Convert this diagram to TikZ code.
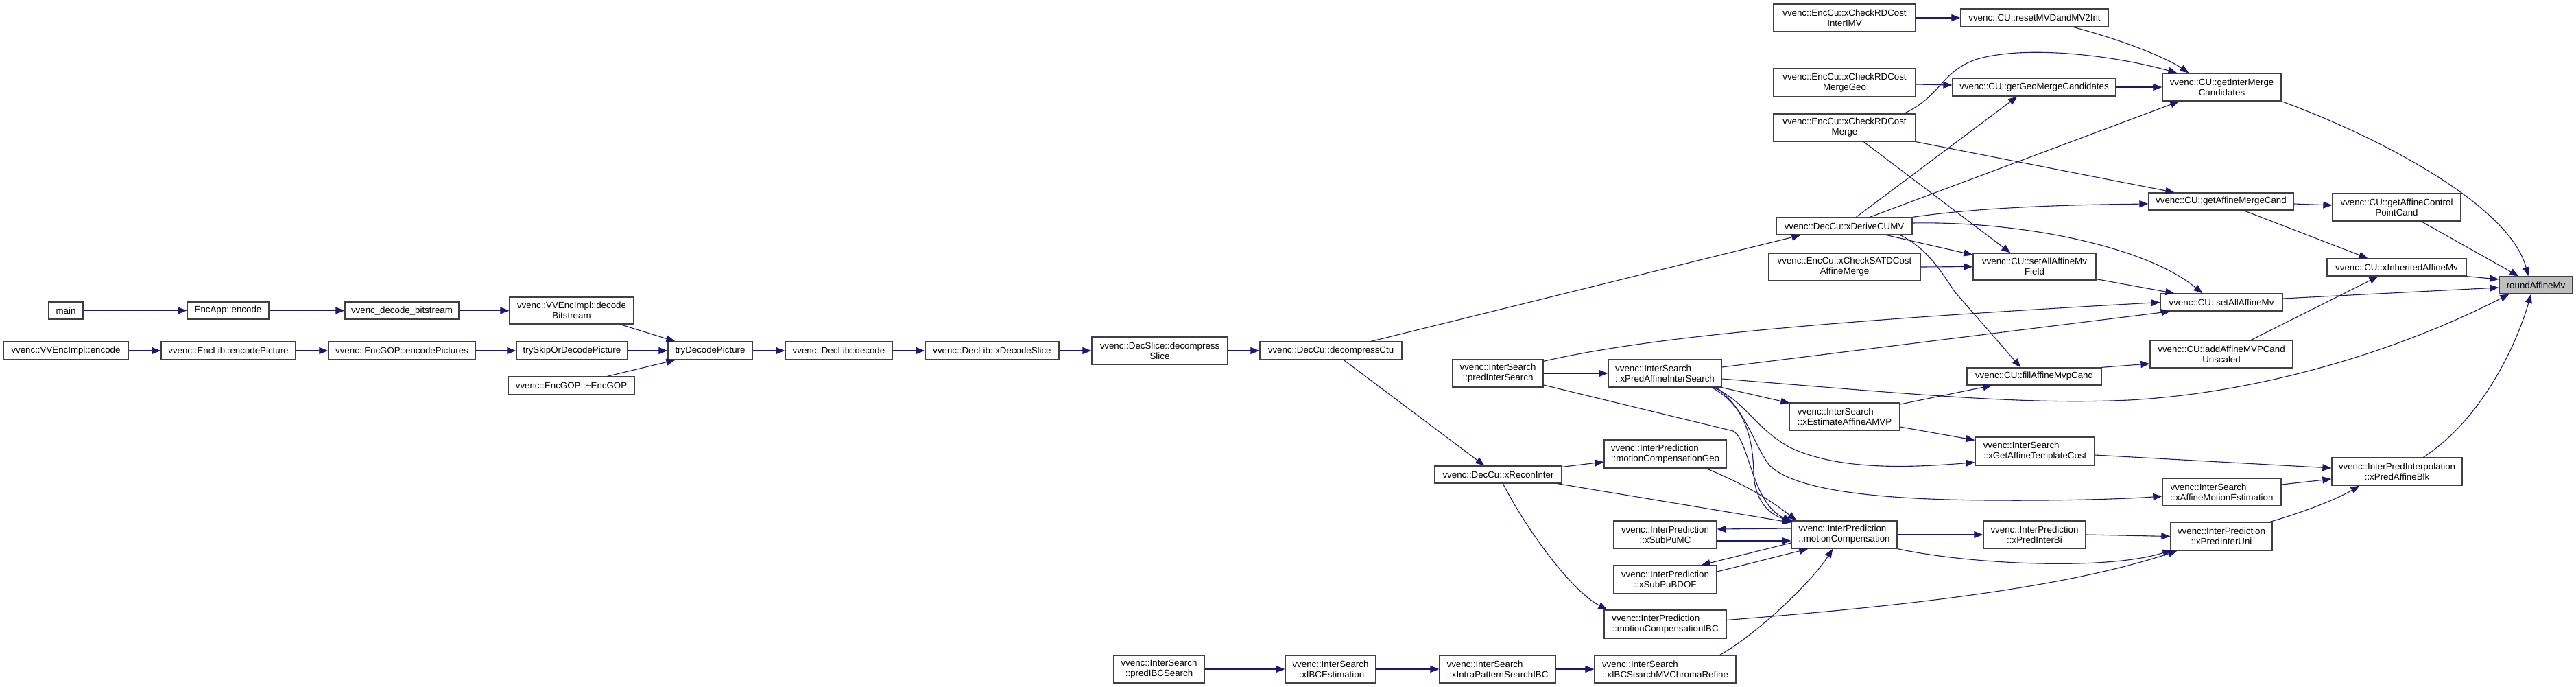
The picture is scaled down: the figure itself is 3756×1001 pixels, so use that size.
\documentclass[tikz,border=0pt]{standalone}
\usepackage{fontspec}
\setmainfont{Liberation Sans}
\usetikzlibrary{arrows.meta,calc}
\definecolor{edgeblue}{HTML}{191970}
\definecolor{boxline}{HTML}{404040}
\definecolor{rootfill}{HTML}{BFBFBF}
\begin{document}
\begin{tikzpicture}[x=1pt,y=-1pt,
  box/.style={draw=boxline, line width=1.3pt, fill=white, inner sep=0pt,
    font=\fontsize{13.3}{15}\selectfont, align=center},
  lbox/.style={box, align=left},
  edge/.style={draw=edgeblue, line width=1.1pt, -{Triangle[length=13pt,width=10pt]}},
]
\fill[white] (0,0) rectangle (3756,1001);
\useasboundingbox (0,0) rectangle (3756,1001);

% ---- left chains
\node[box, minimum width=50pt, minimum height=25pt] (main) at (96,452.5) {main};
\node[box, minimum width=119pt, minimum height=25pt] (encapp) at (332.5,452.5) {EncApp::encode};
\node[box, minimum width=166pt, minimum height=25pt] (vdb) at (586,452.5) {vvenc\_decode\_bitstream};
\node[box, minimum width=181pt, minimum height=39pt] (decbs) at (833.5,452.5) {vvenc::VVEncImpl::decode\\Bitstream};
\node[box, minimum width=182pt, minimum height=26pt] (vencenc) at (96,511) {vvenc::VVEncImpl::encode};
\node[box, minimum width=196pt, minimum height=26pt] (encpic) at (333,511) {vvenc::EncLib::encodePicture};
\node[box, minimum width=214pt, minimum height=26pt] (encpics) at (586,511) {vvenc::EncGOP::encodePictures};
\node[box, minimum width=162pt, minimum height=26pt] (tryskip) at (834,511) {trySkipOrDecodePicture};
\node[box, minimum width=184pt, minimum height=26pt] (encgopd) at (833,562) {vvenc::EncGOP::\textasciitilde EncGOP};
\node[box, minimum width=123pt, minimum height=26pt] (trydec) at (1035.5,511) {tryDecodePicture};
\node[box, minimum width=156pt, minimum height=26pt] (declibdec) at (1223,511) {vvenc::DecLib::decode};
\node[box, minimum width=195pt, minimum height=26pt] (xdecslice) at (1446.5,511) {vvenc::DecLib::xDecodeSlice};
\node[box, minimum width=198pt, minimum height=40pt] (decslice) at (1691,511) {vvenc::DecSlice::decompress\\Slice};
\node[box, minimum width=207pt, minimum height=26pt] (decctu) at (1940.5,511) {vvenc::DecCu::decompressCtu};

% ---- middle
\node[box, minimum width=132pt, minimum height=40pt] (predis) at (2184,544) {vvenc::InterSearch\\::predInterSearch};
\node[lbox, minimum width=165pt, minimum height=40pt] (xpais) at (2427.5,544) {vvenc::InterSearch\\::xPredAffineInterSearch};
\node[box, minimum width=185pt, minimum height=25pt] (recon) at (2184.5,691.5) {vvenc::DecCu::xReconInter};
\node[lbox, minimum width=178pt, minimum height=41pt] (mcgeo) at (2428,661.5) {vvenc::InterPrediction\\::motionCompensationGeo};
\node[box, minimum width=150pt, minimum height=40pt] (subpumc) at (2428,779) {vvenc::InterPrediction\\::xSubPuMC};
\node[box, minimum width=150pt, minimum height=41pt] (subpubdof) at (2428,844.5) {vvenc::InterPrediction\\::xSubPuBDOF};
\node[lbox, minimum width=178pt, minimum height=41pt] (mcibc) at (2428,909.5) {vvenc::InterPrediction\\::motionCompensationIBC};
\node[box, minimum width=132pt, minimum height=40pt] (predibc) at (1690,975) {vvenc::InterSearch\\::predIBCSearch};
\node[box, minimum width=132pt, minimum height=40pt] (ibcest) at (1940,975) {vvenc::InterSearch\\::xIBCEstimation};
\node[lbox, minimum width=169pt, minimum height=40pt] (intrapat) at (2183.5,975) {vvenc::InterSearch\\::xIntraPatternSearchIBC};
\node[lbox, minimum width=206pt, minimum height=40pt] (chroma) at (2428,975) {vvenc::InterSearch\\::xIBCSearchMVChromaRefine};
\node[lbox, minimum width=154pt, minimum height=40pt] (mc) at (2689,779) {vvenc::InterPrediction\\::motionCompensation};

% ---- EncCu column
\node[box, minimum width=207pt, minimum height=40pt] (imv) at (2689.5,26) {vvenc::EncCu::xCheckRDCost\\InterIMV};
\node[box, minimum width=207pt, minimum height=41pt] (mgeo) at (2689.5,120.5) {vvenc::EncCu::xCheckRDCost\\MergeGeo};
\node[box, minimum width=207pt, minimum height=40pt] (merge) at (2689.5,186) {vvenc::EncCu::xCheckRDCost\\Merge};
\node[box, minimum width=198pt, minimum height=25pt] (derive) at (2689,329.5) {vvenc::DecCu::xDeriveCUMV};
\node[box, minimum width=221pt, minimum height=40pt] (satd) at (2689.5,389) {vvenc::EncCu::xCheckSATDCost\\AffineMerge};
\node[lbox, minimum width=161pt, minimum height=40pt] (estamvp) at (2689.5,607) {vvenc::InterSearch\\::xEstimateAffineAMVP};

% ---- next column
\node[box, minimum width=215pt, minimum height=26pt] (reset) at (2966.5,26) {vvenc::CU::resetMVDandMV2Int};
\node[box, minimum width=238pt, minimum height=26pt] (geoc) at (2966,127) {vvenc::CU::getGeoMergeCandidates};
\node[box, minimum width=179pt, minimum height=39pt] (setfield) at (2966.5,388.5) {vvenc::CU::setAllAffineMv\\Field};
\node[box, minimum width=196pt, minimum height=25pt] (fillmvp) at (2966,548.5) {vvenc::CU::fillAffineMvpCand};
\node[lbox, minimum width=174pt, minimum height=41pt] (tmplcost) at (2967,657.5) {vvenc::InterSearch\\::xGetAffineTemplateCost};
\node[box, minimum width=149pt, minimum height=40pt] (interbi) at (2966.5,779) {vvenc::InterPrediction\\::xPredInterBi};

\node[box, minimum width=173pt, minimum height=40pt] (intermerge) at (3239.5,127) {vvenc::CU::getInterMerge\\Candidates};
\node[box, minimum width=211pt, minimum height=25pt] (affmerge) at (3238.5,293.5) {vvenc::CU::getAffineMergeCand};
\node[box, minimum width=178pt, minimum height=25pt] (setall) at (3239,440.5) {vvenc::CU::setAllAffineMv};
\node[box, minimum width=208pt, minimum height=40pt] (addmvp) at (3239,516) {vvenc::CU::addAffineMVPCand\\Unscaled};
\node[lbox, minimum width=173pt, minimum height=40pt] (affme) at (3239.5,717) {vvenc::InterSearch\\::xAffineMotionEstimation};
\node[box, minimum width=148pt, minimum height=41pt] (interuni) at (3239,781.5) {vvenc::InterPrediction\\::xPredInterUni};

\node[box, minimum width=187pt, minimum height=40pt] (cpcand) at (3494.5,302) {vvenc::CU::getAffineControl\\PointCand};
\node[box, minimum width=203pt, minimum height=25pt] (inherit) at (3494.5,389.5) {vvenc::CU::xInheritedAffineMv};
\node[box, minimum width=190pt, minimum height=40pt] (predblk) at (3495,687) {vvenc::InterPredInterpolation\\::xPredAffineBlk};
\node[box, fill=rootfill, minimum width=107pt, minimum height=25pt] (round) at (3697.5,415.5) {roundAffineMv};

% ---- edges: left chains
\draw[edge] (main.east) -- (encapp.west);
\draw[edge] (encapp.east) -- (vdb.west);
\draw[edge] (vdb.east) -- (decbs.west);
\draw[edge] ($(decbs.south west)+(162,0)$) -- ($(trydec.north west)+(11,0)$);
\draw[edge] (vencenc.east) -- (encpic.west);
\draw[edge] (encpic.east) -- (encpics.west);
\draw[edge] (encpics.east) -- (tryskip.west);
\draw[edge] (tryskip.east) -- (trydec.west);
\draw[edge] ($(encgopd.north west)+(145,0)$) -- ($(trydec.south west)+(11,0)$);
\draw[edge] (trydec.east) -- (declibdec.west);
\draw[edge] (declibdec.east) -- (xdecslice.west);
\draw[edge] (xdecslice.east) -- (decslice.west);
\draw[edge] (decslice.east) -- (decctu.west);
\draw[edge] ($(decctu.north west)+(163,0)$) -- ($(derive.south west)+(36,0)$);
\draw[edge] ($(decctu.south west)+(123,0)$) -- ($(recon.north west)+(73,0)$);

% ---- IBC chain
\draw[edge] (predibc.east) -- (ibcest.west);
\draw[edge] (ibcest.east) -- (intrapat.west);
\draw[edge] (intrapat.east) -- (chroma.west);

% ---- InterSearch
\draw[edge] (predis.east) -- (xpais.west);
\draw[edge] ($(predis.north east)+(0,3)$) .. controls (2400,492) and (2650,468) .. (setall.west);
\draw[edge] ($(predis.east)+(0,17)$) -- (2527,628) .. controls (2550,640) and (2555,735) .. ($(mc.north west)+(1,1)$);
\draw[edge] ($(xpais.east)+(0,-9)$) -- ($(setall.south west)+(15,0)$);
\draw[edge] ($(xpais.east)+(0,8)$) .. controls (2800,575) and (2950,590) .. (3104,583)
   .. controls (3300,572) and (3500,510) .. ($(round.south west)+(15,0)$);
\draw[edge] (xpais.south east) -- ($(estamvp.north west)+(1,1)$);
\draw[edge] ($(xpais.south east)+(-15,0)$) .. controls (2545,590) and (2556,640) .. (2557,690)
   .. controls (2559,735) and (2585,752) .. ($(mc.north west)+(3,1)$);
\draw[edge] ($(xpais.south east)+(-12,0)$) .. controls (2545,585) and (2560,625) .. (2610,652)
   .. controls (2680,685) and (2780,682) .. ($(tmplcost.south west)+(0,-5)$);
\draw[edge] ($(xpais.south east)+(-8,0)$) .. controls (2545,595) and (2558,650) .. (2580,678)
   .. controls (2620,718) and (2760,728) .. (2900,729)
   .. controls (3000,730) and (3100,727) .. ($(affme.west)+(0,6)$);
\draw[edge] ($(estamvp.east)+(0,-18)$) -- ($(fillmvp.south west)+(37,0)$);
\draw[edge] ($(estamvp.east)+(0,15)$) -- ($(tmplcost.north west)+(0,5)$);

% ---- DecCu::xReconInter and motion compensation
\draw[edge] ($(recon.north east)+(0,2)$) -- ($(mcgeo.west)+(0,11.5)$);
\draw[edge] ($(recon.south east)+(-7,0)$) -- ($(mc.north west)+(0,3)$);
\draw[edge] ($(recon.south west)+(100,0)$) .. controls (2225,770) and (2290,860) .. ($(mcibc.north west)+(5,0)$);
\draw[edge] ($(mcgeo.south east)+(-30,0)$) .. controls (2530,700) and (2570,720) .. ($(mc.north west)+(8,0)$);
\draw[edge] ($(mc.west)+(0,-9)$) -- ($(subpumc.east)+(0,-8)$);
\draw[edge] ($(subpumc.east)+(0,9)$) -- ($(mc.west)+(0,9)$);
\draw[edge] ($(mc.west)+(0,12)$) -- ($(subpubdof.north east)+(-23,0)$);
\draw[edge] ($(subpubdof.east)+(0,-11.5)$) -- ($(mc.south west)+(25,0)$);
\draw[edge] ($(chroma.north east)+(-24,0)$) .. controls (2560,925) and (2640,850) .. ($(mc.south west)+(61,0)$);
\draw[edge] (mc.east) -- (interbi.west);
\draw[edge] (mc.south east) .. controls (2870,822) and (3070,832) .. ($(interuni.south west)+(2,-1)$);
\draw[edge] ($(mcibc.east)+(0,-6)$) .. controls (2750,885) and (3000,860) .. ($(interuni.south west)+(10,0)$);
\draw[edge] (interbi.east) -- (interuni.west);
\draw[edge] ($(interuni.north east)+(-4,0)$) .. controls (3380,740) and (3420,720) .. ($(predblk.south west)+(41,0)$);
\draw[edge] ($(tmplcost.east)+(0,5.5)$) -- ($(predblk.west)+(0,-5)$);
\draw[edge] ($(affme.east)+(0,-11)$) -- ($(predblk.west)+(0,11)$);
\draw[edge] ($(predblk.north west)+(134,0)$) .. controls (3620,610) and (3670,500) .. ($(round.south west)+(47,0)$);

% ---- xDeriveCUMV
\draw[edge] ($(derive.north west)+(137,0)$) -- ($(intermerge.south west)+(25,0)$);
\draw[edge] ($(derive.north west)+(117,0)$) -- ($(geoc.south west)+(95,0)$);
\draw[edge] (derive.north east) .. controls (2900,300) and (3050,298) .. ($(affmerge.west)+(0,3.5)$);
\draw[edge] ($(derive.east)+(0,-4.5)$) .. controls (2950,322) and (3130,360) .. ($(setall.north west)+(62,0)$);
\draw[edge] ($(derive.south east)+(-38,0)$) -- ($(setfield.north west)+(0,3)$);
\draw[edge] ($(derive.south east)+(-18,0)$) .. controls (2810,362) and (2830,395) .. (2850,425) -- ($(fillmvp.north west)+(79,0)$);

% ---- EncCu
\draw[edge] (imv.east) -- (reset.west);
\draw[edge] ($(reset.south east)+(-51,0)$) .. controls (3100,60) and (3160,85) .. ($(intermerge.north west)+(39,0)$);
\draw[edge] ($(mgeo.east)+(0,2.5)$) -- ($(geoc.west)+(0,-3)$);
\draw[edge] (geoc.east) -- (intermerge.west);
\draw[edge] ($(merge.north west)+(191,0)$) .. controls (2830,140) and (2830,105) .. (2880,87)
   .. controls (2950,65) and (3080,80) .. ($(intermerge.north west)+(22,0)$);
\draw[edge] (merge.south east) -- ($(affmerge.north west)+(38,0)$);
\draw[edge] ($(merge.south west)+(132,0)$) -- ($(setfield.north west)+(55,0)$);
\draw[edge] (satd.east) -- (setfield.west);
\draw[edge] ($(setfield.south east)+(0,-2)$) -- ($(setall.north west)+(21,0)$);

% ---- CU to roundAffineMv
\draw[edge] (intermerge.south east) .. controls (3470,200) and (3660,300) .. ($(round.north west)+(43,0)$);
\draw[edge] ($(affmerge.east)+(0,3.5)$) -- ($(cpcand.west)+(0,-3)$);
\draw[edge] ($(affmerge.south west)+(139,0)$) -- ($(inherit.north west)+(60,0)$);
\draw[edge] ($(cpcand.south west)+(130,0)$) -- ($(round.north west)+(29,0)$);
\draw[edge] (inherit.south east) -- ($(round.west)+(0,-8.5)$);
\draw[edge] ($(setall.east)+(0,-5.5)$) -- ($(round.west)+(0,3.5)$);
\draw[edge] ($(addmvp.north west)+(148,0)$) -- ($(inherit.south west)+(75,0)$);
\draw[edge] (fillmvp.north east) -- ($(addmvp.west)+(0,14)$);
\end{tikzpicture}
\end{document}
